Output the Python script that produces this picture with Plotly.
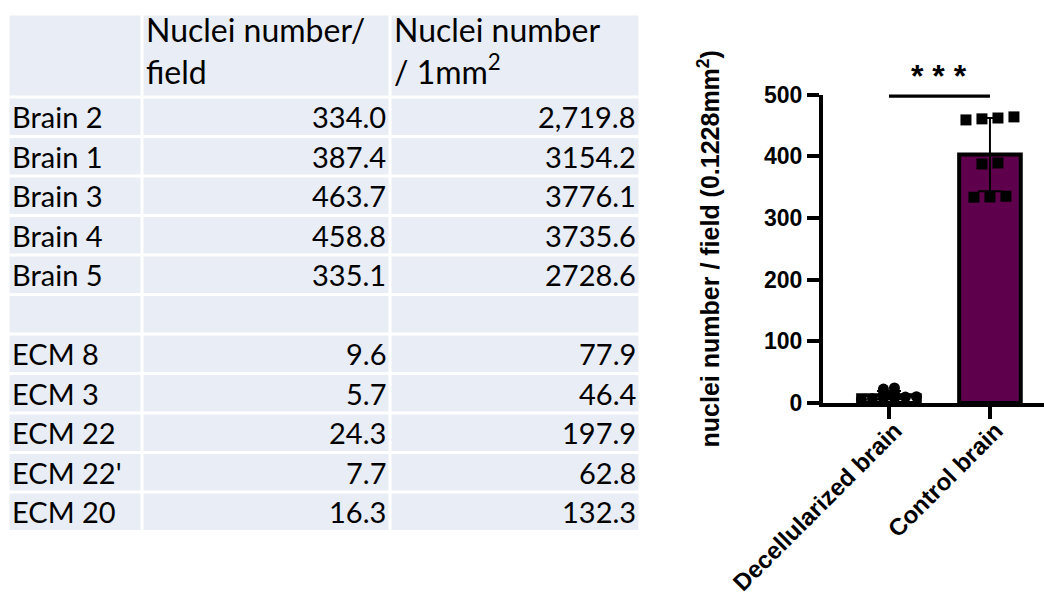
import numpy as np
import plotly.graph_objects as go

W, H = 1044, 596

# ---- table contents ----
col_headers = ["", "Nuclei number/<br>field", "Nuclei number<br>/ 1mm<sup>2</sup>"]
row_labels = ["Brain 2", "Brain 1", "Brain 3", "Brain 4", "Brain 5", "",
              "ECM 8", "ECM 3", "ECM 22", "ECM 22'", "ECM 20"]
per_field = ["334.0", "387.4", "463.7", "458.8", "335.1", "",
             "9.6", "5.7", "24.3", "7.7", "16.3"]
per_mm2 = ["2,719.8", "3154.2", "3776.1", "3735.6", "2728.6", "",
           "77.9", "46.4", "197.9", "62.8", "132.3"]

# ---- bar chart data ----
groups = ["Decellularized brain", "Control brain"]
decell_counts = [5.7, 6.8, 7.7, 8.4, 9.6, 10.2, 14.9, 16.3, 22.6, 24.3]
control_counts = [458.8, 460.5, 461.9, 463.7, 387.4, 389.0, 333.5, 334.0, 335.1]
bar_fill = ["#FFFFFF", "#5E004C"]
y_ticks = [0, 100, 200, 300, 400, 500]
significance = "* * *"


def px_x(x):
    return x / W


def px_y(y):
    return 1 - y / H


# ---------------- table drawn with shapes + annotations ----------------
TABLE_FONT = "Lato, Carlito, Calibri, sans-serif"
col_edges = [8, 142, 390, 640]
top, head_h, row_h = 14, 83, 39.5
cell_fill = "#E9EDF5"
gap = 1.5

shapes = []
annotations = []


def cell(x0, y0, x1, y1):
    shapes.append(dict(type="rect", xref="paper", yref="paper",
                       x0=px_x(x0 + gap), x1=px_x(x1 - gap),
                       y0=px_y(y1 - gap), y1=px_y(y0 + gap),
                       fillcolor=cell_fill, line=dict(width=0), layer="below"))


for c, txt in enumerate(col_headers):
    cell(col_edges[c], top, col_edges[c + 1], top + head_h)
    if txt:
        annotations.append(dict(xref="paper", yref="paper", showarrow=False,
                                x=px_x(col_edges[c] + 2), xanchor="left",
                                y=px_y(top + head_h / 2 - 5), yanchor="middle",
                                align="left", text=txt,
                                font=dict(family=TABLE_FONT, size=32, color="black")))

columns = [row_labels, per_field, per_mm2]
for r in range(len(row_labels)):
    y0 = top + head_h + r * row_h
    for c in range(3):
        cell(col_edges[c], y0, col_edges[c + 1], y0 + row_h)
        txt = columns[c][r]
        if not txt:
            continue
        if c == 0:
            xa, xpos = "left", col_edges[c] + 2
        else:
            xa, xpos = "right", col_edges[c + 1] - 2
        annotations.append(dict(xref="paper", yref="paper", showarrow=False,
                                x=px_x(xpos), xanchor=xa,
                                y=px_y(y0 + row_h / 2), yanchor="middle",
                                text=txt,
                                font=dict(family=TABLE_FONT, size=29, color="black")))

# ---------------- bar chart ----------------
AX_L, AX_R, AX_B, AX_T = 823, 1044, 403, 94.5
X_MIN = -0.653
PX_PER_X = 101.0
X_MAX = X_MIN + (AX_R - AX_L) / PX_PER_X


def spread(vals, tol, step_px):
    """Horizontal offsets so that points with similar values sit side by side."""
    vals = np.asarray(vals, dtype=float)
    order = np.argsort(vals)
    clusters = [[order[0]]]
    for prev, cur in zip(order[:-1], order[1:]):
        if vals[cur] - vals[prev] <= tol:
            clusters[-1].append(cur)
        else:
            clusters.append([cur])
    off = np.zeros(len(vals))
    for cl in clusters:
        n = len(cl)
        for k, i in enumerate(cl):
            off[i] = (k - (n - 1) / 2) * step_px / PX_PER_X
    return off


series = [decell_counts, control_counts]
means = [float(np.mean(s)) for s in series]
sds = [float(np.std(s, ddof=1)) for s in series]

fig = go.Figure()
fig.add_trace(go.Bar(
    x=[0, 1], y=means, width=0.61,
    marker=dict(color=bar_fill, line=dict(color="black", width=4)),
    error_y=dict(type="data", array=sds, visible=True,
                 color="black", thickness=2, width=12),
    showlegend=False, hoverinfo="skip",
))

off_d = spread(decell_counts, 4, 11)
fig.add_trace(go.Scatter(
    x=0 + off_d, y=decell_counts, mode="markers",
    marker=dict(symbol="circle", size=11, color="black"),
    showlegend=False, cliponaxis=False,
))
off_c = spread(control_counts, 10, 16)
fig.add_trace(go.Scatter(
    x=1 + off_c, y=control_counts, mode="markers",
    marker=dict(symbol="square", size=11, color="black"),
    showlegend=False, cliponaxis=False,
))

# significance bracket
shapes.append(dict(type="line", xref="x", yref="y", x0=0, x1=1, y0=498, y1=498,
                   line=dict(color="black", width=4)))
annotations.append(dict(xref="x", yref="y", x=0.5, y=498, yanchor="bottom",
                        showarrow=False, text=significance,
                        font=dict(family="Arial, Liberation Sans", size=32,
                                  color="black", weight="bold")))

AX_FONT = dict(family="Arial, Liberation Sans", color="black", weight="bold")

fig.update_layout(
    width=W, height=H,
    margin=dict(l=0, r=0, t=0, b=0, autoexpand=False),
    paper_bgcolor="white", plot_bgcolor="white",
    shapes=shapes, annotations=annotations,
    xaxis=dict(
        domain=[px_x(AX_L), px_x(AX_R)], range=[X_MIN, X_MAX],
        tickvals=[0, 1], ticktext=groups, tickangle=-45,
        showline=True, linewidth=4, linecolor="black",
        ticks="outside", ticklen=12, tickwidth=4, tickcolor="black",
        tickfont=dict(size=24, **AX_FONT), automargin=False,
        ticklabelstandoff=-12, ticklabelshift=6,
        showgrid=False, zeroline=False, fixedrange=True,
    ),
    yaxis=dict(
        domain=[px_y(AX_B), px_y(AX_T)], range=[0, 500],
        tickvals=y_ticks,
        showline=True, linewidth=4, linecolor="black",
        ticks="outside", ticklen=12, tickwidth=4, tickcolor="black",
        tickfont=dict(size=23, **AX_FONT), automargin=False,
        title=dict(text="nuclei number / field (0.1228mm<sup>2</sup>)",
                   font=dict(size=25, **AX_FONT), standoff=38),
        showgrid=False, zeroline=False, fixedrange=True,
    ),
)

fig.write_html("out.html")
